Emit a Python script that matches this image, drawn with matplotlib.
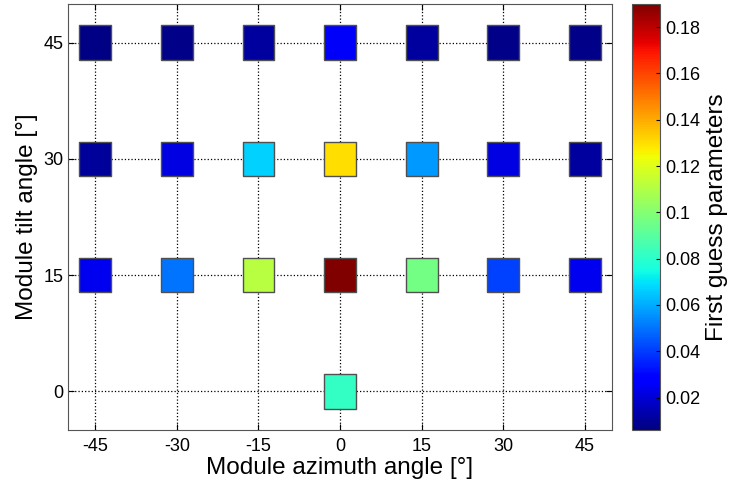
import numpy as np
import matplotlib.pyplot as plt
from matplotlib.ticker import FormatStrFormatter

plt.rcParams['font.family'] = ['Liberation Sans', 'DejaVu Sans']
plt.rcParams['axes.unicode_minus'] = False

# azimuth / tilt grid positions and the first guess values
azimuth = [-45, -30, -15, 0, 15, 30, 45,
           -45, -30, -15, 0, 15, 30, 45,
           -45, -30, -15, 0, 15, 30, 45,
           0]
tilt = [45, 45, 45, 45, 45, 45, 45,
        30, 30, 30, 30, 30, 30, 30,
        15, 15, 15, 15, 15, 15, 15,
        0]
values = [0.007, 0.008, 0.0115, 0.026, 0.0115, 0.008, 0.008,
          0.0105, 0.0225, 0.067, 0.13, 0.057, 0.0225, 0.0115,
          0.024, 0.050, 0.111, 0.19, 0.096, 0.041, 0.024,
          0.082]

xticks = [-45, -30, -15, 0, 15, 30, 45]
yticks = [0, 15, 30, 45]
cbar_ticks = [0.02, 0.04, 0.06, 0.08, 0.1, 0.12, 0.14, 0.16, 0.18]

# slightly narrow square marker, like the original
box = [(-0.46, -0.5), (0.46, -0.5), (0.46, 0.5), (-0.46, 0.5), (-0.46, -0.5)]

fig = plt.figure(figsize=(7.32, 4.87), dpi=100)
ax = fig.add_axes([0.093, 0.117, 0.743, 0.875])
cax = fig.add_axes([0.864, 0.117, 0.038, 0.875])

ax.grid(True, linestyle=':', color='black', linewidth=0.9)
ax.set_axisbelow(True)
sc = ax.scatter(azimuth, tilt, c=values, cmap='jet', vmin=0.006, vmax=0.19,
                marker=box, s=620, edgecolors='#505050', linewidths=1.0, zorder=3)

ax.set_xlim(-50, 50)
ax.set_ylim(-5, 50)
ax.set_xticks(xticks)
ax.set_yticks(yticks)
ax.tick_params(direction='in', labelsize=13, top=True, right=True, length=4)
ax.tick_params(axis='x', pad=6)
for sp in ax.spines.values():
    sp.set_color('#555555')
ax.set_xlabel('Module azimuth angle [°]', fontsize=17.5, labelpad=1)
ax.set_ylabel('Module tilt angle [°]', fontsize=17.5, labelpad=4)

cb = fig.colorbar(sc, cax=cax, ticks=cbar_ticks)
cb.ax.yaxis.set_major_formatter(FormatStrFormatter('%g'))
cb.ax.tick_params(direction='in', labelsize=13, length=3)
cb.outline.set_edgecolor('#555555')
cb.set_label('First guess parameters', fontsize=17.5, labelpad=4)

fig.savefig('out.png', dpi=100)
